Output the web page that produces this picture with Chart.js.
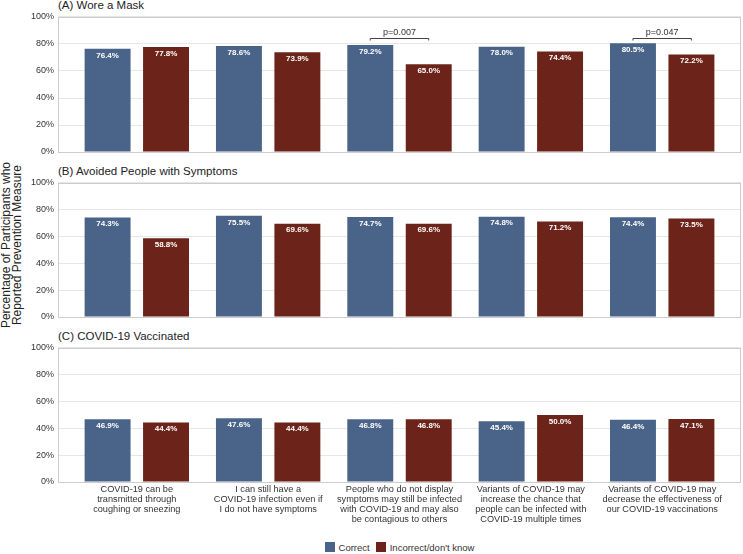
<!DOCTYPE html>
<html>
<head>
<meta charset="utf-8">
<script src="https://cdn.jsdelivr.net/npm/chart.js@4.4.1/dist/chart.umd.min.js"></script>
<style>
  html, body { margin: 0; padding: 0; background: #fff; }
  body { width: 743px; height: 554px; position: relative; overflow: hidden; font-family: "Liberation Sans", Arial, sans-serif; }
  .panel { position: absolute; left: 0; width: 743px; }
  .ptitle { position: absolute; left: 58px; font-size: 11.5px; color: #222; line-height: 13px; white-space: nowrap; }
  #ytitle { position: absolute; left: 10.5px; top: 245px; transform: translate(-50%, -50%) rotate(-90deg); font-size: 12px; line-height: 10.5px; color: #222; text-align: center; white-space: nowrap; }
  #legend { position: absolute; left: 58px; width: 683px; top: 541px; height: 13px; text-align: center; font-size: 9.5px; line-height: 13px; color: #333; white-space: nowrap; }
  #legend span.item { display: inline-block; margin: 0 3px; }
  #legend span.box { display: inline-block; width: 10px; height: 10px; margin-right: 4px; vertical-align: -1px; }
</style>
</head>
<body>
<div class="ptitle" style="top:-1px">(A) Wore a Mask</div>
<div class="ptitle" style="top:165px">(B) Avoided People with Symptoms</div>
<div class="ptitle" style="top:330px">(C) COVID-19 Vaccinated</div>
<div id="ytitle">Percentage of Participants who<br>Reported Prevention Measure</div>
<div class="panel" style="top:8px;height:153px"><canvas id="c-mask"></canvas></div>
<div class="panel" style="top:174px;height:152px"><canvas id="c-avoid"></canvas></div>
<div class="panel" style="top:339px;height:188px"><canvas id="c-vacc"></canvas></div>
<div id="legend"></div>
<script>
var categories = [
  ['COVID-19 can be', 'transmitted through', 'coughing or sneezing'],
  ['I can still have a', 'COVID-19 infection even if', 'I do not have symptoms'],
  ['People who do not display', 'symptoms may still be infected', 'with COVID-19 and may also', 'be contagious to others'],
  ['Variants of COVID-19 may', 'increase the chance that', 'people can be infected with', 'COVID-19 multiple times'],
  ['Variants of COVID-19 may', 'decrease the effectiveness of', 'our COVID-19 vaccinations']
];
var seriesNames = ['Correct', "Incorrect/don't know"];

var maskCorrect   = [76.4, 78.6, 79.2, 78.0, 80.5];
var maskIncorrect = [77.8, 73.9, 65.0, 74.4, 72.2];
var maskP         = ['', '', 'p=0.007', '', 'p=0.047'];

var avoidCorrect   = [74.3, 75.5, 74.7, 74.8, 74.4];
var avoidIncorrect = [58.8, 69.6, 69.6, 71.2, 73.5];

var vaccCorrect   = [46.9, 47.6, 46.8, 45.4, 46.4];
var vaccIncorrect = [44.4, 44.4, 46.8, 50.0, 47.1];

var yTicks = [0, 20, 40, 60, 80, 100];

var blue = '#4a6388';
var red = '#6c2319';
var colors = [blue, red];
var gc = '#e6e6e6';
var tc = '#333';
var ff = '"Liberation Sans", Arial, sans-serif';

// legend (shared by the three panels)
document.getElementById('legend').innerHTML = seriesNames.map(function(n, i) {
  return '<span class="item"><span class="box" style="background:' + colors[i] + '"></span>' + n.replace("'", '&#39;') + '</span>';
}).join('');

var framePlugin = {
  id: 'frame',
  beforeDatasetsDraw: function(chart) {
    var a = chart.chartArea, ctx = chart.ctx;
    ctx.save();
    ctx.strokeStyle = '#cccccc';
    ctx.lineWidth = 1;
    ctx.strokeRect(Math.round(a.left) + 0.5, Math.round(a.top) + 0.5, Math.round(a.right - a.left) - 1, Math.round(a.bottom - a.top));
    ctx.restore();
  }
};

var valuePlugin = {
  id: 'values',
  afterDatasetsDraw: function(chart) {
    var ctx = chart.ctx;
    ctx.save();
    ctx.fillStyle = '#fff';
    ctx.font = 'bold 8px ' + ff;
    ctx.textAlign = 'center';
    ctx.textBaseline = 'middle';
    chart.data.datasets.forEach(function(ds, di) {
      chart.getDatasetMeta(di).data.forEach(function(el, i) {
        ctx.fillText(ds.data[i].y.toFixed(1) + '%', el.x, el.y + 6.5);
      });
    });
    ctx.restore();
  }
};

var bracketPlugin = {
  id: 'brackets',
  afterDatasetsDraw: function(chart, args, opts) {
    if (!opts.labels) return;
    var ctx = chart.ctx;
    var y = Math.round(chart.scales.y.getPixelForValue(opts.level)) + 0.5;
    ctx.save();
    ctx.strokeStyle = '#444';
    ctx.lineWidth = 1;
    ctx.fillStyle = '#333';
    ctx.font = '9px ' + ff;
    ctx.textAlign = 'center';
    ctx.textBaseline = 'bottom';
    opts.labels.forEach(function(t, i) {
      if (!t) return;
      var x1 = chart.getDatasetMeta(0).data[i].x;
      var x2 = chart.getDatasetMeta(1).data[i].x;
      ctx.beginPath();
      ctx.moveTo(x1, y + 2);
      ctx.lineTo(x1, y);
      ctx.lineTo(x2, y);
      ctx.lineTo(x2, y + 2);
      ctx.stroke();
      ctx.fillText(t, (x1 + x2) / 2, y - 1.5);
    });
    ctx.restore();
  }
};

function pts(arr) {
  return arr.map(function(v, i) { return {x: i, y: v}; });
}

function makePanel(id, correct, incorrect, showLabels, pLabels) {
  new Chart(document.getElementById(id), {
    type: 'bar',
    data: {
      datasets: [
        {label: seriesNames[0], data: pts(correct), backgroundColor: colors[0], categoryPercentage: 0.89, barPercentage: 0.786},
        {label: seriesNames[1], data: pts(incorrect), backgroundColor: colors[1], categoryPercentage: 0.89, barPercentage: 0.786}
      ]
    },
    options: {
      responsive: true, maintainAspectRatio: false, animation: false,
      layout: {padding: {top: 0, right: 2, bottom: 0, left: 0}},
      plugins: {
        legend: {display: false},
        tooltip: {enabled: false},
        brackets: {labels: pLabels, level: 84.5}
      },
      scales: {
        x: {
          type: 'linear', min: -0.6, max: 4.6, offset: false,
          grid: {display: false, drawTicks: false}, border: {display: false},
          afterBuildTicks: function(s) { s.ticks = categories.map(function(c, i) { return {value: i}; }); },
          afterFit: function(s) { s.height = showLabels ? 45 : 0; },
          ticks: {
            display: showLabels, autoSkip: false, maxRotation: 0, padding: 2, color: tc,
            font: {size: 9.2, lineHeight: 1.087, family: ff},
            callback: function(v) { return categories[v] || ''; }
          }
        },
        y: {
          min: 0, max: 100,
          afterBuildTicks: function(s) { s.ticks = yTicks.map(function(v) { return {value: v}; }); },
          afterFit: function(s) { s.width = 58; },
          grid: {color: gc, drawTicks: false}, border: {display: false},
          ticks: {color: tc, padding: 4, font: {size: 9, lineHeight: 1.1111, family: ff}, callback: function(v) { return v + '%'; }}
        }
      }
    },
    plugins: [framePlugin, valuePlugin, bracketPlugin]
  });
}

makePanel('c-mask', maskCorrect, maskIncorrect, false, maskP);
makePanel('c-avoid', avoidCorrect, avoidIncorrect, false, null);
makePanel('c-vacc', vaccCorrect, vaccIncorrect, true, null);
</script>
</body>
</html>
